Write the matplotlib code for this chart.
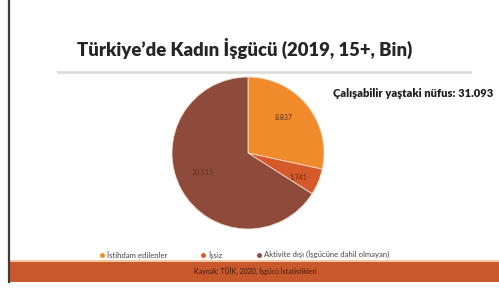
import matplotlib
matplotlib.use("Agg")
import matplotlib.pyplot as plt
from matplotlib.patches import Rectangle
from matplotlib.lines import Line2D

W, H = 499, 288

# data (bin kişi)
categories = ["İstihdam edilenler", "İşsiz", "Aktivite dışı (İşgücüne dahil olmayan)"]
values = [8837, 1741, 20515]
value_labels = ["8.837", "1.741", "20.515"]
colors = ["#f08a2a", "#d6592b", "#8e4a3a"]
title = "Türkiye’de Kadın İşgücü (2019, 15+, Bin)"
total_label = "Çalışabilir yaştaki nüfus: 31.093"
source = "Kaynak: TÜİK, 2020, İşgücü İstatistikleri"

plt.rcParams["font.family"] = ["Lato", "DejaVu Sans"]


def fx(x):
    return x / W


def fy(y):
    return 1 - y / H


fig = plt.figure(figsize=(W / 100, H / 100), dpi=100)
fig.patch.set_facecolor("white")

# left dark edge and bottom band
fig.add_artist(Line2D([fx(9), fx(9)], [fy(0), fy(282)], color="#3c3c3c", lw=1.6))
fig.add_artist(Rectangle((fx(9), fy(282)), 1 - fx(9), (282 - 261) / H,
                         transform=fig.transFigure, color="#c9582b", lw=0))
fig.add_artist(Rectangle((fx(9), fy(262)), 1 - fx(9), 2 / H,
                         transform=fig.transFigure, color="#f4c8a0", lw=0))

# title + separator
fig.text(fx(245), fy(48), title, ha="center", va="center", fontsize=13.3,
         fontweight="heavy", color="#262626")
fig.add_artist(Line2D([fx(58), fx(470)], [fy(72), fy(72)], color="#dcdcdc", lw=2))

fig.text(fx(333), fy(93), total_label, ha="left", va="center", fontsize=8,
         fontweight="heavy", color="#1e1e1e")

# pie
ax = fig.add_axes([fx(172), fy(229), 152 / W, 152 / H])
wedges, _ = ax.pie(values, colors=colors, startangle=90, counterclock=False,
                   wedgeprops=dict(edgecolor="#f3dcc8", linewidth=0.6))
ax.set_xlim(-1.0, 1.0)
ax.set_ylim(-1.0, 1.0)
ax.set_aspect("equal")
label_pos = [(0.47, 0.47), (0.66, -0.32), (-0.6, -0.26)]
for (px, py), lab in zip(label_pos, value_labels):
    ax.text(px, py, lab, ha="center", va="center", fontsize=5, color="#5a3020")

# legend
handles = [Line2D([], [], marker="o", ls="", color=c, markersize=2.5) for c in colors]
fig.legend(handles, categories, loc="center", bbox_to_anchor=(fx(244), fy(255)),
           ncol=3, frameon=False, fontsize=5.6, labelcolor="#444444",
           handletextpad=0.3, columnspacing=4.2, handlelength=0.8)

fig.text(fx(255), fy(272), source, ha="center", va="center", fontsize=5,
         color="#3a1a10")

fig.savefig("out.png", dpi=100)
